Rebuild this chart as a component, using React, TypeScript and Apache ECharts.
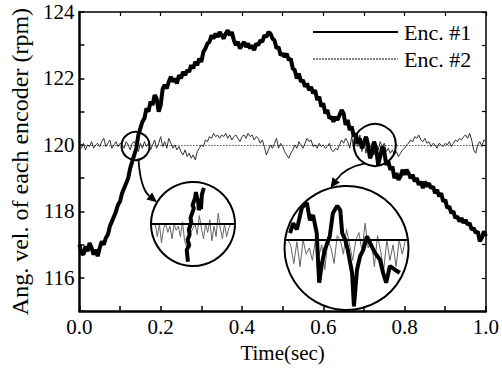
import React, { useEffect, useRef } from "react";
import * as echarts from "echarts";

const FONT = "Liberation Serif";

// time step of the recorded samples (sec)
const dt = 0.005;

// Enc. #1 angular velocity (rpm), one value every 5 ms from 0.0 to 1.0 s
const enc1 = [
  117.0, 116.75, 116.7, 116.95, 116.8, 117.05, 116.9, 116.7, 116.85, 116.65,
  116.9, 117.1, 117.0, 117.2, 117.3, 117.55, 117.7, 117.85, 118.0, 118.2,
  118.3, 118.55, 118.7, 118.85, 119.0, 119.3, 119.5, 119.7, 119.9, 120.3,
  120.5, 120.7, 120.8, 121.1, 121.0, 121.3, 121.2, 121.5, 121.4, 121.0,
  121.2, 121.7, 121.8, 121.7, 121.9, 122.05, 121.9, 122.0, 121.85, 122.1,
  122.0, 122.2, 122.1, 122.25, 122.2, 122.4, 122.3, 122.5, 122.4, 122.6,
  122.5, 122.8, 122.9, 123.05, 123.1, 123.3, 123.2, 123.35, 123.25, 123.4,
  123.3, 123.2, 123.35, 123.45, 123.3, 123.4, 123.15, 123.0, 123.1, 122.9,
  123.0, 123.1, 122.95, 123.05, 122.9, 123.0, 122.85, 123.05, 123.0, 123.15,
  123.1, 123.3, 123.25, 123.4, 123.35, 123.2, 123.15, 122.9, 122.95, 122.7,
  122.75, 122.65, 122.75, 122.55, 122.6, 122.3, 122.25, 122.0, 122.15, 121.9,
  121.95, 121.75, 121.85, 121.65, 121.75, 121.55, 121.65, 121.35, 121.45, 121.15,
  121.25, 120.95, 121.05, 120.8, 120.85, 120.7, 120.85, 120.75, 120.9, 121.05,
  120.95, 120.6, 120.75, 120.45, 120.55, 120.25, 120.35, 120.05, 120.2, 119.9,
  120.05, 120.25, 120.0, 119.6, 119.75, 120.1, 119.9, 119.4, 119.65, 119.95,
  119.8, 119.4, 119.5, 119.25, 119.35, 119.0, 119.15, 118.95, 119.05, 119.25,
  119.1, 119.25, 119.15, 119.0, 119.1, 118.9, 119.0, 118.8, 118.9, 118.7,
  118.9, 118.75, 118.85, 118.7, 118.75, 118.55, 118.65, 118.45, 118.55, 118.3,
  118.35, 118.1, 118.15, 117.95, 118.0, 117.8, 117.85, 117.7, 117.8, 117.65,
  117.75, 117.6, 117.65, 117.45, 117.5, 117.35, 117.4, 117.1, 117.2, 117.4,
  117.25,
];

// Enc. #2 angular velocity (rpm), same sampling
const enc2 = [
  120.0, 119.9, 120.05, 119.85, 120.0, 119.95, 120.1, 119.9, 120.0, 120.05,
  119.95, 120.1, 120.2, 119.95, 120.05, 120.15, 119.9, 120.0, 120.1, 119.95,
  120.05, 120.0, 119.9, 120.1, 120.0, 119.85, 120.05, 120.1, 119.95, 119.8,
  120.05, 119.9, 120.1, 119.95, 120.05, 119.85, 120.0, 120.15, 119.9, 120.05,
  120.25, 119.95, 120.1, 119.9, 120.2, 120.05, 119.9, 120.0, 119.85, 119.95,
  119.8, 119.7, 119.85, 119.65, 119.75, 119.6, 119.7, 119.55, 119.8, 119.9,
  120.0, 119.95, 120.15, 120.1, 120.25, 120.2, 120.35, 120.25, 120.3, 120.2,
  120.3, 120.25, 120.35, 120.2, 120.3, 120.15, 120.25, 120.3, 120.2, 120.1,
  120.25, 120.3, 120.2, 120.35, 120.25, 120.3, 120.15, 120.25, 120.2, 120.05,
  120.15, 119.95, 119.7, 119.85, 120.0, 119.9, 120.05, 120.2, 119.9, 120.05,
  119.95, 119.8, 119.7, 119.6, 119.75, 119.85, 120.0, 119.9, 120.1, 120.0,
  119.9, 120.05, 120.2, 120.1, 120.15, 119.95, 120.0, 119.9, 120.05, 119.95,
  120.0, 119.9, 119.95, 120.05, 119.85, 119.8, 119.9, 119.85, 120.0, 120.15,
  120.05, 120.2, 120.1, 119.9, 120.25, 119.85, 120.1, 119.95, 120.3, 119.8,
  120.15, 119.75, 120.2, 119.9, 120.05, 119.7, 120.0, 119.85, 120.1, 119.95,
  120.05, 119.8, 119.9, 119.75, 119.85, 119.7, 119.8, 119.65, 119.75, 119.85,
  119.9, 120.0, 120.05, 120.15, 120.1, 120.25, 120.2, 120.3, 120.15, 120.1,
  120.2, 120.05, 120.1, 119.95, 120.05, 120.0, 119.9, 120.05, 120.0, 119.95,
  120.05, 120.0, 120.1, 119.95, 120.05, 120.15, 120.1, 120.2, 120.15, 120.25,
  120.3, 120.2, 120.35, 120.15, 119.85, 119.75, 120.0, 120.1, 119.95, 120.15,
  120.1,
];

const refLevel = 120;

// axis tick labels
const xTicks = ["0.0", "0.2", "0.4", "0.6", "0.8", "1.0"];
const yTicks = [116, 118, 120, 122, 124];

// magnified spots (time, rpm) marked by small circles
const spotT = [0.138, 0.727];
const spotV = [120.0, 120.0];

// magnified insets, normalised coords (-1..1) inside each circle
const inset1Gray = [
  [-0.9, 0], [-0.85, -0.3], [-0.8, 0], [-0.75, -0.45], [-0.7, -0.1], [-0.65, 0],
  [-0.6, -0.2], [-0.55, -0.05], [-0.5, -0.35], [-0.45, 0], [-0.4, -0.15],
  [-0.35, -0.05], [-0.3, -0.3], [-0.25, 0.05], [-0.2, -0.4], [-0.15, -0.55],
  [-0.1, -0.3], [-0.05, -0.2], [0, -0.1], [0.05, 0], [0.1, -0.25], [0.15, 0.2],
  [0.2, -0.1], [0.25, -0.35], [0.3, 0], [0.35, -0.2], [0.4, 0.1], [0.45, -0.4],
  [0.5, -0.05], [0.55, -0.3], [0.6, 0.25], [0.65, -0.1], [0.7, -0.35], [0.75, 0],
  [0.8, -0.3], [0.85, -0.1], [0.9, 0],
];
const inset1Black = [
  [-0.12, -0.9], [-0.15, -0.62], [-0.09, -0.5], [-0.13, -0.38], [-0.08, -0.25],
  [-0.1, -0.14], [-0.04, 0.05], [-0.06, 0.14], [0.02, 0.38], [-0.01, 0.45],
  [0.05, 0.62], [0.07, 0.76], [0.1, 0.6], [0.12, 0.57], [0.14, 0.33],
  [0.17, 0.42], [0.19, 0.36], [0.21, 0.69], [0.24, 0.8], [0.26, 0.86],
];
const inset1Ref = [[-1, 0], [1, 0]];

const inset2Gray = [
  [-0.95, 0.13], [-0.9, 0.05], [-0.85, -0.25], [-0.8, 0.1], [-0.75, -0.3],
  [-0.7, 0.13], [-0.65, -0.1], [-0.6, 0.0], [-0.55, -0.2], [-0.5, 0.13],
  [-0.45, -0.15], [-0.4, 0.05], [-0.35, -0.35], [-0.3, 0.13], [-0.25, 0.0],
  [-0.2, -0.25], [-0.15, 0.2], [-0.1, 0.13], [-0.05, -0.1], [0, 0.3],
  [0.05, 0.05], [0.1, -0.2], [0.15, 0.13], [0.2, 0.25], [0.25, -0.05],
  [0.3, 0.4], [0.35, 0.0], [0.4, 0.13], [0.45, -0.3], [0.5, 0.2],
  [0.55, -0.05], [0.6, -0.35], [0.65, 0.13], [0.7, -0.2], [0.75, 0.05],
  [0.8, -0.3], [0.85, 0.13], [0.9, -0.1], [0.95, 0.13],
];
const inset2Black = [
  [-0.91, 0.24], [-0.86, 0.4], [-0.8, 0.3], [-0.72, 0.65], [-0.64, 0.73],
  [-0.59, 0.45], [-0.54, 0.53], [-0.48, 0.24], [-0.46, -0.19], [-0.44, -0.56],
  [-0.4, -0.27], [-0.35, -0.03], [-0.27, 0.19], [-0.22, 0.56], [-0.15, 0.68],
  [-0.1, 0.61], [-0.07, 0.24], [-0.02, 0.13], [0.02, -0.03], [0.09, -0.4],
  [0.12, -0.94], [0.17, -0.35], [0.22, -0.13], [0.27, -0.03], [0.33, 0.19],
  [0.38, 0.08], [0.46, -0.08], [0.54, -0.19], [0.59, -0.4], [0.64, -0.56],
  [0.7, -0.29], [0.78, -0.35], [0.86, -0.4],
];
const inset2Ref = [[-0.99, 0.13], [0.99, 0.13]];

export default function App() {
  const ref = useRef<HTMLDivElement>(null);

  useEffect(() => {
    if (!ref.current) return;
    const chart = echarts.init(ref.current, null, { renderer: "svg" });

    const grid0 = { left: 72, top: 12, width: 414, height: 307 };
    const inset1Box = { left: 151, top: 182, width: 84, height: 84 };
    const inset2Box = { left: 284.5, top: 186, width: 124, height: 124 };

    const t1 = enc1.map((v, i) => [+(i * dt).toFixed(3), v]);
    const t2 = enc2.map((v, i) => [+(i * dt).toFixed(3), v]);

    const hiddenAxis = (gi: number) => ({
      gridIndex: gi,
      type: "value",
      min: -1,
      max: 1,
      show: false,
    });

    const frameLine = (w: number) => ({
      show: true,
      onZero: false,
      lineStyle: { color: "#000", width: w },
    });

    const labelFont = { fontFamily: FONT, fontSize: 21, fontWeight: "normal", color: "#000" };

    const option: any = {
      animation: false,
      backgroundColor: "#fff",
      grid: [
        { ...grid0, containLabel: false },
        { ...inset1Box },
        { ...inset2Box },
      ],
      legend: {
        orient: "vertical",
        left: 307,
        top: 16,
        itemWidth: 85,
        itemHeight: 14,
        itemGap: 5,
        selectedMode: false,
        itemStyle: { opacity: 0 },
        textStyle: {
          fontFamily: FONT,
          fontSize: 22,
          fontWeight: "normal",
          color: "#000",
          padding: [0, 0, 0, 1],
        },
        data: [
          { name: "Enc. #1" },
          { name: "Enc. #2", lineStyle: { type: [2, 1], width: 1, color: "#000" } },
        ],
      },
      xAxis: [
        {
          gridIndex: 0,
          type: "value",
          min: 0,
          max: 1,
          interval: 0.1,
          position: "bottom",
          name: "Time(sec)",
          nameLocation: "middle",
          nameGap: 26,
          nameTextStyle: { ...labelFont },
          axisLine: frameLine(2.5),
          axisTick: { inside: true, length: 5, lineStyle: { color: "#000", width: 1.5 } },
          axisLabel: {
            ...labelFont,
            margin: 5,
            formatter: (v: number) => {
              const k = Math.round(v * 10);
              return k % 2 === 0 ? xTicks[k / 2] : "";
            },
          },
          splitLine: { show: false },
        },
        {
          gridIndex: 0,
          type: "value",
          min: 0,
          max: 1,
          interval: 0.1,
          position: "top",
          axisLine: frameLine(1.5),
          axisTick: { inside: true, length: 4, lineStyle: { color: "#000", width: 1.2 } },
          axisLabel: { show: false },
          splitLine: { show: false },
        },
        hiddenAxis(1),
        hiddenAxis(2),
      ],
      yAxis: [
        {
          gridIndex: 0,
          type: "value",
          min: 115,
          max: 124,
          interval: 1,
          position: "left",
          name: "Ang. vel. of each encoder (rpm)",
          nameLocation: "middle",
          nameGap: 44,
          nameTextStyle: { ...labelFont, fontSize: 24 },
          axisLine: frameLine(2.5),
          axisTick: { inside: true, length: 5, lineStyle: { color: "#000", width: 1.5 } },
          axisLabel: {
            ...labelFont,
            margin: 5,
            formatter: (v: number) => (yTicks.indexOf(Math.round(v)) >= 0 ? String(Math.round(v)) : ""),
          },
          splitLine: { show: false },
        },
        {
          gridIndex: 0,
          type: "value",
          min: 115,
          max: 124,
          interval: 1,
          position: "right",
          axisLine: frameLine(1.5),
          axisTick: { inside: true, length: 4, lineStyle: { color: "#000", width: 1.2 } },
          axisLabel: { show: false },
          splitLine: { show: false },
        },
        hiddenAxis(1),
        hiddenAxis(2),
      ],
      series: [
        {
          name: "Enc. #2",
          type: "line",
          xAxisIndex: 0,
          yAxisIndex: 0,
          data: t2,
          symbol: "none",
          itemStyle: { color: "#000" },
          lineStyle: { color: "#333", width: 1 },
          z: 2,
          markLine: {
            silent: true,
            symbol: "none",
            label: { show: false },
            lineStyle: { color: "#000", type: [1, 2], width: 1 },
            data: [{ yAxis: refLevel }],
          },
        },
        {
          name: "Enc. #1",
          type: "line",
          xAxisIndex: 0,
          yAxisIndex: 0,
          data: t1,
          symbol: "none",
          itemStyle: { color: "#000" },
          lineStyle: { color: "#000", width: 4 },
          z: 3,
        },
        {
          name: "inset1-gray",
          type: "line",
          xAxisIndex: 2,
          yAxisIndex: 2,
          data: inset1Gray,
          symbol: "none",
          lineStyle: { color: "#666", width: 1 },
        },
        {
          name: "inset1-ref",
          type: "line",
          xAxisIndex: 2,
          yAxisIndex: 2,
          data: inset1Ref,
          symbol: "none",
          lineStyle: { color: "#000", width: 2 },
        },
        {
          name: "inset1-black",
          type: "line",
          xAxisIndex: 2,
          yAxisIndex: 2,
          data: inset1Black,
          symbol: "none",
          lineStyle: { color: "#000", width: 4 },
        },
        {
          name: "inset2-gray",
          type: "line",
          xAxisIndex: 3,
          yAxisIndex: 3,
          data: inset2Gray,
          symbol: "none",
          lineStyle: { color: "#666", width: 1 },
        },
        {
          name: "inset2-ref",
          type: "line",
          xAxisIndex: 3,
          yAxisIndex: 3,
          data: inset2Ref,
          symbol: "none",
          lineStyle: { color: "#000", width: 2 },
        },
        {
          name: "inset2-black",
          type: "line",
          xAxisIndex: 3,
          yAxisIndex: 3,
          data: inset2Black,
          symbol: "none",
          lineStyle: { color: "#000", width: 4 },
        },
      ],
    };

    chart.setOption(option);

    // small circles placed on the data, big circles on the inset grids
    const s1 = chart.convertToPixel({ gridIndex: 0 }, [spotT[0], spotV[0]]) as number[];
    const s2 = chart.convertToPixel({ gridIndex: 0 }, [spotT[1], spotV[1]]) as number[];
    const r1 = 14;
    const r2 = 21;
    const b1 = [inset1Box.left + inset1Box.width / 2, inset1Box.top + inset1Box.height / 2];
    const b2 = [inset2Box.left + inset2Box.width / 2, inset2Box.top + inset2Box.height / 2];
    const R1 = inset1Box.width / 2;
    const R2 = inset2Box.width / 2;

    const polar = (c: number[], r: number, deg: number) => [
      c[0] + r * Math.cos((deg * Math.PI) / 180),
      c[1] + r * Math.sin((deg * Math.PI) / 180),
    ];

    const arrow = (start: number[], cp: number[], tip: number[]) => {
      const dx = tip[0] - cp[0];
      const dy = tip[1] - cp[1];
      const len = Math.hypot(dx, dy);
      const ux = dx / len;
      const uy = dy / len;
      const L = 10;
      const W = 4.5;
      const base = [tip[0] - ux * L, tip[1] - uy * L];
      return [
        {
          type: "bezierCurve",
          shape: { x1: start[0], y1: start[1], x2: base[0], y2: base[1], cpx1: cp[0], cpy1: cp[1] },
          style: { stroke: "#000", lineWidth: 1.8, fill: "none" },
          z: 100,
        },
        {
          type: "polygon",
          shape: {
            points: [
              tip,
              [base[0] - uy * W, base[1] + ux * W],
              [base[0] + uy * W, base[1] - ux * W],
            ],
          },
          style: { fill: "#000" },
          z: 100,
        },
      ];
    };

    const a1Start = polar(s1, r1, 78);
    const a1Tip = polar(b1, R1, 211);
    const a2Start = polar(s2, r2, 118);
    const a2Tip = polar(b2, R2, 255);

    const circ = (c: number[], r: number) => ({
      type: "circle",
      shape: { cx: c[0], cy: c[1], r },
      style: { fill: "none", stroke: "#000", lineWidth: 2 },
      z: 100,
    });

    chart.setOption({
      graphic: [
        circ(s1, r1),
        circ(s2, r2),
        circ(b1, R1),
        circ(b2, R2),
        ...arrow(a1Start, [a1Start[0] + 2, a1Start[1] + 30], a1Tip),
        ...arrow(a2Start, [a2Start[0] - 20, a2Start[1] + 4], a2Tip),
      ],
    });

    return () => chart.dispose();
  }, []);

  return (
    <div
      ref={ref}
      style={{ position: "fixed", left: 0, top: 0, width: 502, height: 368, background: "#fff" }}
    />
  );
}
